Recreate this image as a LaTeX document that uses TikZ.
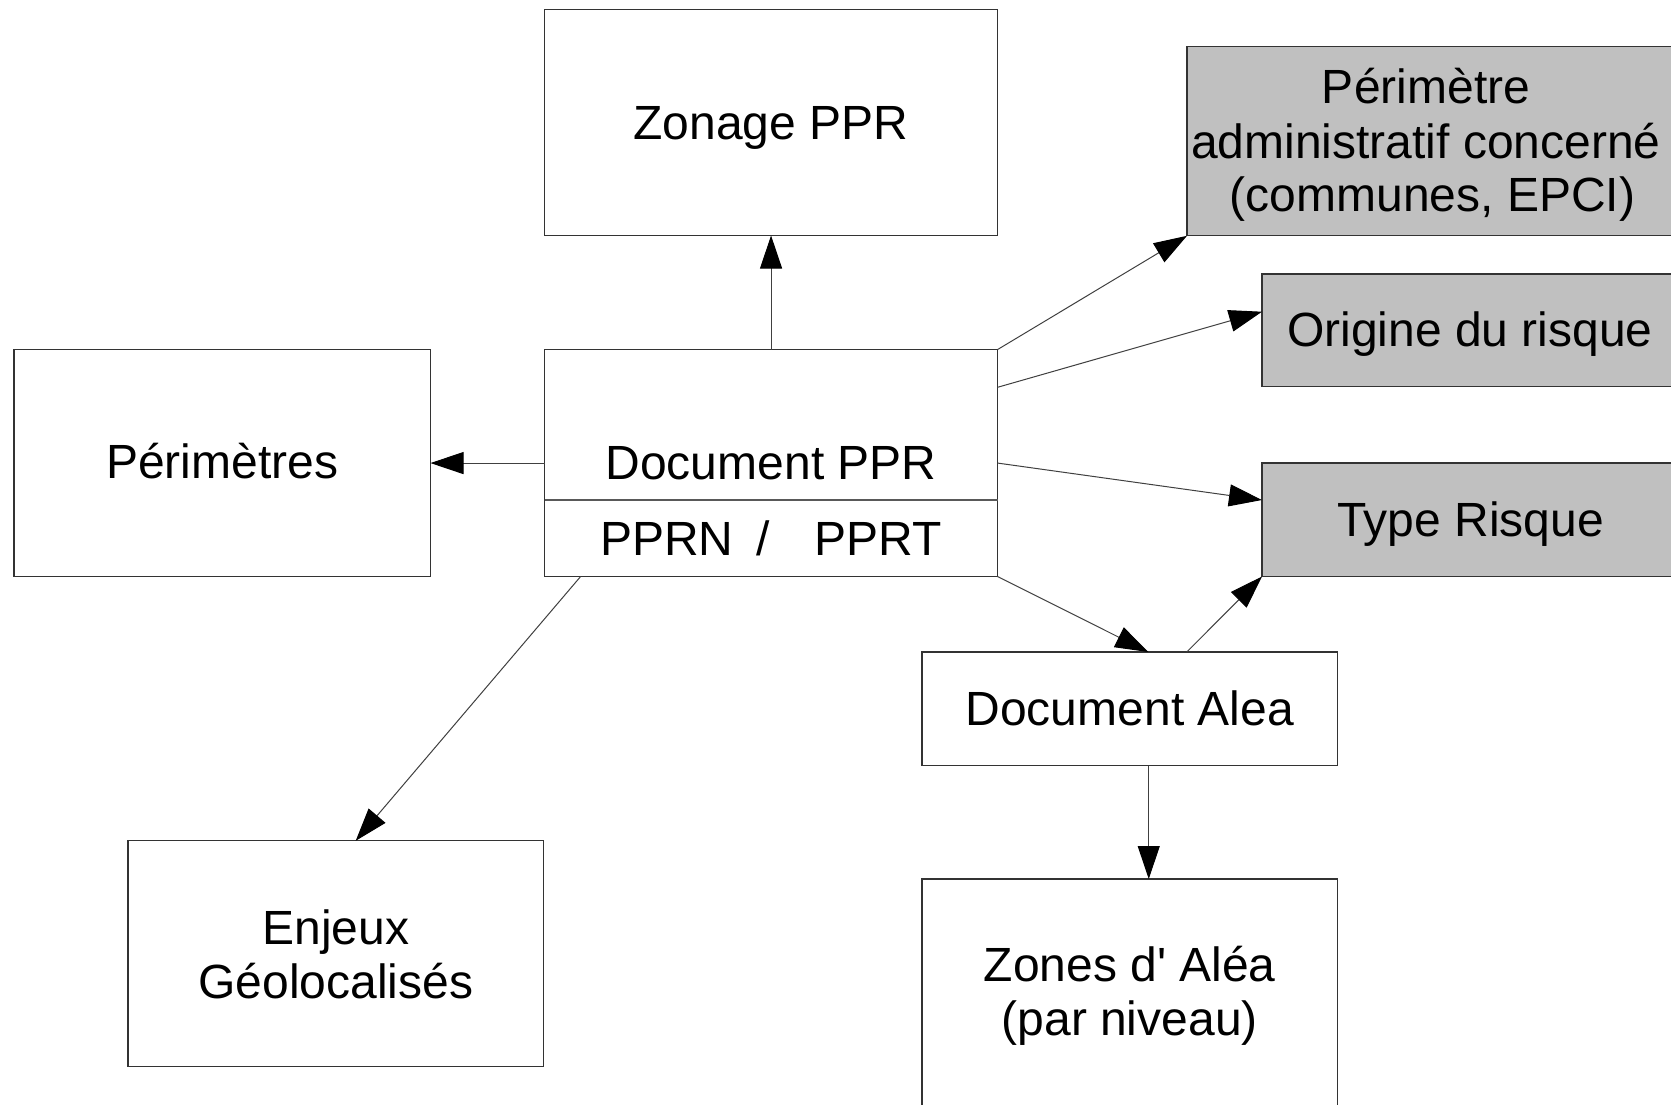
\documentclass[tikz,border=0pt]{standalone}
\usepackage{fontspec}
\setmainfont{Liberation Sans}[Ligatures=TeXOff]
\usetikzlibrary{arrows.meta,calc}
\definecolor{boxgrey}{RGB}{192,192,192}
\begin{document}
\begin{tikzpicture}[x=1pt,y=-1pt,
  box/.style={draw=black!80, line width=1.3pt, inner sep=0pt, outer sep=0pt, rectangle, fill=white},
  greybox/.style={box, fill=boxgrey},
  lbl/.style={anchor=base, inner sep=0pt, outer sep=0pt, font=\fontsize{48pt}{54pt}\selectfont},
  conn/.style={draw=black!75, line width=1pt, -{Triangle[length=33pt,width=22pt,color=black]}},
  divline/.style={draw=black!65, line width=1.1pt}]
\useasboundingbox (0,0) rectangle (1671,1104);
\clip (0,0) rectangle (1671,1104);
\fill[white] (0,0) rectangle (1671,1104);

% boxes
\node[box, minimum width=452.9pt, minimum height=225.9pt] (zon) at (771.05,122.55) {};
\node[box, minimum width=452.9pt, minimum height=226.9pt] (doc) at (771.05,463.05) {};
\node[box, minimum width=416.6pt, minimum height=226.9pt] (per) at (222.2,463.05) {};
\node[box, minimum width=415.6pt, minimum height=226pt] (enj) at (335.7,953.8) {};
\node[greybox, minimum width=493pt, minimum height=189pt] (adm) at (1433.5,141.3) {};
\node[greybox, minimum width=418pt, minimum height=112.8pt] (ori) at (1471,330.4) {};
\node[greybox, minimum width=418pt, minimum height=113.5pt] (typ) at (1471,519.75) {};
\node[box, minimum width=415.5pt, minimum height=113.5pt] (ale) at (1129.75,708.75) {};
\node[box, minimum width=415.5pt, minimum height=231pt] (zal) at (1129.75,994.5) {};

\draw[divline] ($(doc.south west)+(0,-76.5)$) -- ($(doc.south east)+(0,-76.5)$);

% connectors
\draw[conn] (doc.north) -- (zon.south);
\draw[conn] (doc.west) -- (per.east);
\draw[conn] (doc.north east) -- (adm.south west);
\draw[conn] ($(doc.north east)+(0,37.7)$) -- ($(ori.west)+(0,-18.7)$);
\draw[conn] (doc.east) -- ($(typ.west)+(0,-19.75)$);
\draw[conn] (doc.south east) -- ($(ale.north)+(18.6,0)$);
\draw[conn] ($(ale.north)+(57,0)$) -- (typ.south west);
\draw[conn] ($(ale.south)+(19,0)$) -- ($(zal.north)+(19,0)$);
\draw[conn] ($(doc.south west)+(36,0)$) -- ($(enj.north)+(20,0)$);

% texts
\node[lbl] (tzon) at (771,139.8) {Zonage PPR};
\node[lbl] (tdoc) at (771,479.7) {Document PPR};
\node[lbl] (tsub) at (771,555.6) {PPRN\hspace{23pt}/\hspace{45pt}PPRT};
\node[lbl] (tper) at (222.2,478.5) {Périmètres};
\node[lbl] (tenj1) at (335.7,944.7) {Enjeux};
\node[lbl] (tenj2) at (335.7,998) {Géolocalisés};
\node[lbl] (tadm1) at (1426,103.3) {Périmètre};
\node[lbl] (tadm2) at (1426,158.3) {administratif concerné};
\node[lbl] (tadm3) at (1432.5,211.7) {(communes, EPCI)};
\node[lbl] (tori) at (1469.8,346.7) {Origine du risque};
\node[lbl] (ttyp) at (1470.7,536) {Type Risque};
\node[lbl] (tale) at (1129.7,725) {Document Alea};
\node[lbl] (tzal1) at (1129.7,981.7) {Zones d' Aléa};
\node[lbl] (tzal2) at (1129.7,1035) {(par niveau)};
\end{tikzpicture}
\end{document}
